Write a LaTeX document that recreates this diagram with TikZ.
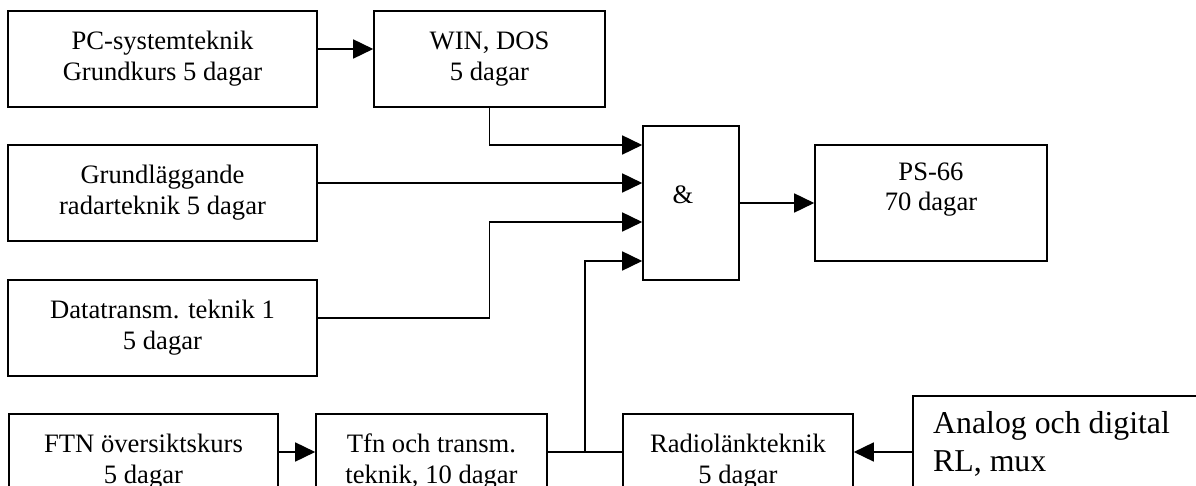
\documentclass[tikz,border=0pt]{standalone}
\usepackage{fontspec}
\setmainfont{Liberation Serif}
\usetikzlibrary{arrows.meta,calc}
\tikzset{
  box/.style={draw, line width=1.6pt, rectangle, inner sep=0pt, align=center,
    font=\fontsize{26.6}{31}\selectfont},
  txt/.style={inner sep=0pt, align=center, font=\fontsize{26.6}{30}\selectfont},
  bigtxt/.style={inner sep=0pt, align=left, font=\fontsize{31.8}{38}\selectfont},
  arr/.style={line width=1.6pt, -{Triangle[length=20pt,width=19pt]}},
  wire/.style={line width=1.6pt},
}
\begin{document}
\begin{tikzpicture}[x=1pt,y=-1pt]
\useasboundingbox (0,0) rectangle (1196,486);
\fill[white] (0,0) rectangle (1196,486);

\node[box, minimum width=309pt, minimum height=96pt] (pc) at (162.5,59) {PC-systemteknik\\Grundkurs 5 dagar};
\node[box, minimum width=231pt, minimum height=96pt] (win) at (489.5,59) {WIN, DOS\\5 dagar};
\node[box, minimum width=309pt, minimum height=96pt] (grund) at (162.5,193) {Grundläggande\\radarteknik 5 dagar};
\node[box, minimum width=309pt, minimum height=96pt] (data) at (162.5,328) {Datatransm. teknik 1\\5 dagar};
\node[box, minimum width=96pt, minimum height=154pt] (and) at (691,203) {};
\node[txt] (amp) at (683,195) {\&};
\node[box, minimum width=232pt, minimum height=116pt] (ps) at (931,203) {};
\node[txt] (pstxt) at (931,190) {PS-66\\70 dagar};
\node[box, minimum width=269pt, minimum height=96pt] (ftn) at (143.5,462) {FTN översiktskurs\\5 dagar};
\node[box, minimum width=231pt, minimum height=96pt] (tfn) at (431.5,462) {Tfn och transm.\\teknik, 10 dagar};
\node[box, minimum width=230pt, minimum height=96pt] (radio) at (738,462) {Radiolänkteknik\\5 dagar};
\node[box, anchor=north west, minimum width=340pt, minimum height=130pt] (analog) at (912,395) {};
\node[bigtxt, anchor=north west] (analogtxt) at (933,411) {Analog och digital\\RL, mux};

\coordinate (in1) at ([yshift=58pt]and.west);
\coordinate (in2) at ([yshift=20pt]and.west);
\coordinate (in3) at ([yshift=-19pt]and.west);
\coordinate (in4) at ([yshift=-58pt]and.west);
\coordinate (p1) at ([yshift=10pt]pc.east);
\coordinate (d1) at ([yshift=10pt]data.east);
\coordinate (f1) at ([yshift=10pt]ftn.east);
\coordinate (jn) at (585,452);

\draw[arr] (p1) -- (p1 -| win.west);
\draw[arr] (win.south) |- (in1);
\draw[arr] (grund.east |- in2) -- (in2);
\draw[arr] (d1) -| (win.south |- in3) -- (in3);
\draw[arr] (and.east) -- (ps.west);
\draw[arr] (f1) -- (f1 -| tfn.west);
\draw[wire] (f1 -| tfn.east) -- (f1 -| radio.west);
\draw[arr] (jn) |- (in4);
\draw[arr] (f1 -| analog.west) -- (f1 -| radio.east);
\end{tikzpicture}
\end{document}
